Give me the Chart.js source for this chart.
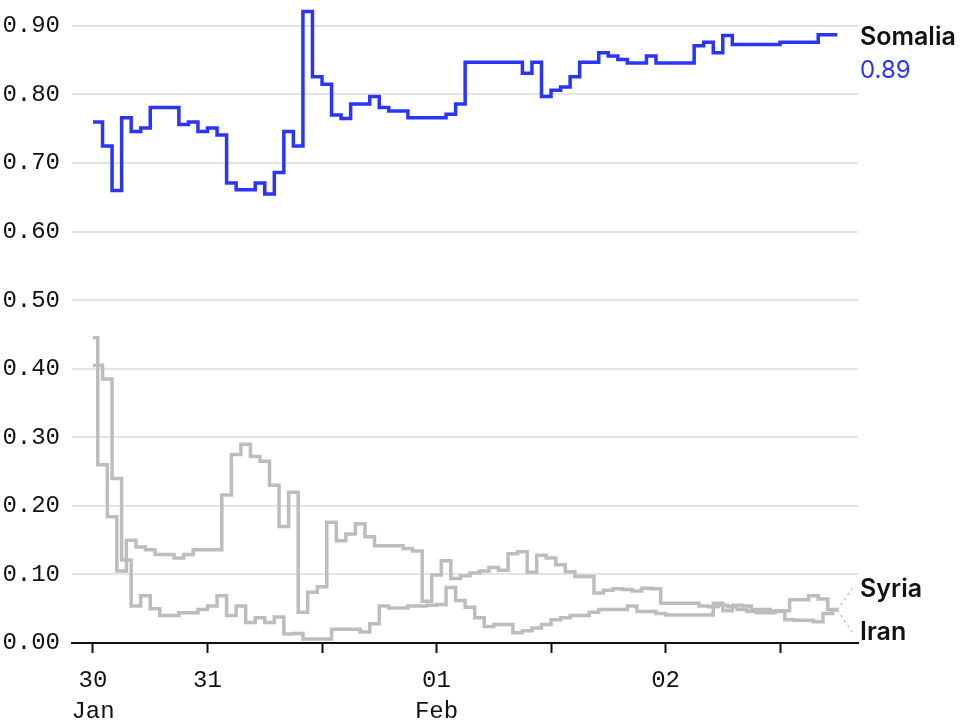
<!DOCTYPE html>
<html>
<head>
<meta charset="utf-8">
<script src="https://cdn.jsdelivr.net/npm/chart.js@4"></script>
<style>
  body { margin: 0; background: #fff; }
</style>
</head>
<body>
<canvas id="wykres" width="960" height="720"></canvas>
<script>
// hours counted from the first tick ("30 Jan")
const tickHours = [0, 12, 24, 36, 48, 60, 72]
const tickLabels = [['30', 'Jan'], '31', '', ['01', 'Feb'], '', '02', '']
const yTicks = [0, 0.1, 0.2, 0.3, 0.4, 0.5, 0.6, 0.7, 0.8, 0.9]

const somaliaHours = [0,1,2,3,4,5,6,9,10,11,12,13,14,15,17,18,19,20,21,22,23,24,25,26,27,29,30,31,33,37,38,39,45,46,47,48,49,50,51,53,54,55,56,58,59,63,64,65,66,67,72,76,78]
const somaliaValues = [0.760,0.725,0.660,0.766,0.746,0.751,0.781,0.756,0.760,0.746,0.751,0.741,0.671,0.661,0.671,0.655,0.686,0.746,0.725,0.921,0.826,0.815,0.770,0.765,0.786,0.797,0.781,0.776,0.766,0.771,0.786,0.847,0.831,0.847,0.797,0.806,0.811,0.826,0.847,0.861,0.856,0.851,0.846,0.856,0.846,0.871,0.876,0.861,0.886,0.873,0.876,0.887,0.887]

const iranHours = [0,0.5,1.5,2.5,3.5,4.5,5.5,6.5,8.5,9.5,10.5,13.5,14.5,15.5,16.5,17.5,18.5,19.5,20.5,21.5,22.5,23.5,24.5,25.5,26.5,27.5,28.5,29.5,32.5,33.5,34.5,35.5,36.5,37.5,38.5,39.5,40.5,41.5,42.5,43.5,44.5,45.5,46.5,47.5,48.5,49.5,50.5,52.5,53.5,54.5,55.5,56.5,57.5,58.5,59.5,63.5,64.5,65.5,66.5,67.5,68.5,69.5,70.5,71.5,72.5,73.5,75.5,76.5,77.5,78]
const iranValues = [0.445,0.260,0.184,0.105,0.150,0.140,0.136,0.129,0.124,0.129,0.136,0.216,0.275,0.290,0.272,0.265,0.230,0.170,0.220,0.045,0.074,0.082,0.176,0.149,0.159,0.174,0.155,0.142,0.138,0.134,0.061,0.099,0.120,0.094,0.098,0.102,0.105,0.110,0.106,0.130,0.133,0.103,0.128,0.124,0.114,0.104,0.097,0.073,0.077,0.079,0.078,0.076,0.080,0.079,0.058,0.054,0.053,0.055,0.053,0.049,0.046,0.044,0.044,0.047,0.034,0.033,0.031,0.043,0.048,0.048]

const syriaHours = [0,1,2,3,4,5,6,7,9,11,12,13,14,15,16,17,18,19,20,21,22,25,28,29,30,31,33,35,36,37,38,39,40,41,42,44,45,46,47,48,49,50,52,53,56,57,59,60,65,66,67,68,69,70,71,72,73,75,76,77,78]
const syriaValues = [0.405,0.385,0.240,0.121,0.054,0.069,0.050,0.040,0.044,0.049,0.054,0.069,0.040,0.054,0.030,0.037,0.030,0.038,0.013,0.014,0.006,0.020,0.016,0.028,0.054,0.051,0.054,0.055,0.056,0.081,0.062,0.052,0.037,0.024,0.027,0.015,0.018,0.022,0.027,0.034,0.037,0.040,0.045,0.049,0.054,0.046,0.043,0.041,0.058,0.047,0.055,0.054,0.049,0.049,0.046,0.047,0.063,0.069,0.064,0.049,0.048]

const blue = '#2b35f6'
const grey = '#bdbdbd'
const mono = 'Liberation Mono'
const sans = 'Inter'

function punkty(hours, values) {
    return hours.map((h, i) => ({ x: h, y: values[i] }))
}

// etykiety na końcu linii
const endLabels = {
    id: 'endLabels',
    afterDatasetsDraw(chart) {
        const ctx = chart.ctx
        const xs = chart.scales.x
        const ys = chart.scales.y
        const x0 = chart.chartArea.right + 2
        ctx.save()
        ctx.textAlign = 'left'
        ctx.textBaseline = 'middle'

        const yS = ys.getPixelForValue(somaliaValues[somaliaValues.length - 1])
        ctx.fillStyle = '#111'
        ctx.font = '600 25px ' + sans
        ctx.fillText('Somalia', x0, yS + 3)
        ctx.fillStyle = blue
        ctx.font = '400 24px ' + sans
        ctx.fillText(somaliaValues[somaliaValues.length - 1].toFixed(2), x0, yS + 36)

        // dwie szare linie kończą się w tym samym miejscu
        const ex = xs.getPixelForValue(syriaHours[syriaHours.length - 1])
        const ey = ys.getPixelForValue(syriaValues[syriaValues.length - 1])
        ctx.strokeStyle = '#c8c8c8'
        ctx.lineWidth = 1.5
        ctx.setLineDash([3, 3])
        ctx.beginPath()
        ctx.moveTo(ex, ey)
        ctx.lineTo(ex + 15, ey - 22)
        ctx.moveTo(ex, ey)
        ctx.lineTo(ex + 15, ey + 22)
        ctx.stroke()
        ctx.setLineDash([])

        ctx.fillStyle = '#111'
        ctx.font = '600 25px ' + sans
        ctx.fillText('Syria', x0, ey - 21)
        ctx.fillText('Iran', x0, ey + 22)
        ctx.restore()
    }
}

const chart = new Chart(document.getElementById('wykres'), {
    type: 'line',
    data: {
        datasets: [
            { label: 'Somalia', data: punkty(somaliaHours, somaliaValues), borderColor: blue, borderWidth: 3.5 },
            { label: 'Syria', data: punkty(syriaHours, syriaValues), borderColor: grey, borderWidth: 3.5 },
            { label: 'Iran', data: punkty(iranHours, iranValues), borderColor: grey, borderWidth: 3.5 }
        ]
    },
    options: {
        responsive: false,
        animation: false,
        layout: { padding: { left: 0, right: 102, top: 0, bottom: 0 } },
        elements: {
            line: { stepped: true, fill: false, borderJoinStyle: 'miter', borderCapStyle: 'butt' },
            point: { radius: 0 }
        },
        plugins: {
            legend: { display: false },
            tooltip: { enabled: false }
        },
        scales: {
            x: {
                type: 'linear',
                min: -2.2,
                max: 80.17,
                afterBuildTicks: (scale) => { scale.ticks = tickHours.map(v => ({ value: v })) },
                afterFit: (scale) => { scale.height = 77 },
                grid: { drawOnChartArea: false, drawTicks: true, tickLength: 10, tickColor: '#111', tickWidth: 2 },
                border: { color: '#111', width: 2 },
                ticks: {
                    autoSkip: false,
                    maxRotation: 0,
                    padding: 12,
                    color: '#111',
                    font: { family: mono, size: 24, lineHeight: 1.3 },
                    callback: (value, index) => tickLabels[index]
                }
            },
            y: {
                min: 0,
                max: 0.936,
                afterBuildTicks: (scale) => { scale.ticks = yTicks.map(v => ({ value: v })) },
                afterFit: (scale) => { scale.width = 72 },
                // odstęp etykiet robimy niewidocznym tickiem, żeby nie było paddingu u góry
                grid: { color: '#e4e4e4', lineWidth: 2, drawTicks: true, tickLength: 12, tickColor: 'rgba(0,0,0,0)' },
                border: { display: false },
                ticks: {
                    padding: 0,
                    color: '#111',
                    font: { family: mono, size: 24, lineHeight: 0.1 },
                    callback: (value) => value.toFixed(2)
                }
            }
        }
    },
    plugins: [endLabels]
})
</script>
</body>
</html>
